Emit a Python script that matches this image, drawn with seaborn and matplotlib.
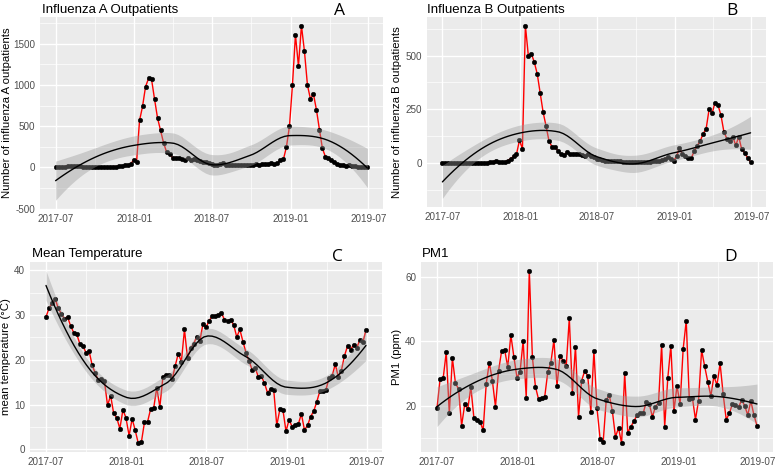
import numpy as np
import pandas as pd
import matplotlib
matplotlib.use("Agg")
import matplotlib.pyplot as plt
import matplotlib.dates as mdates
import seaborn as sns

# ---------------- data (weekly) ----------------
week_start = "2017-07-01"
n_weeks = 105

flu_a = [5, 5, 5, 10, 20, 20, 20, 15, 15, 10, 10, 5, 5, 5, 5, 5, 5, 5, 5, 10,
         10, 15, 20, 25, 30, 40,
         90, 60, 570, 740, 980, 1080, 1070, 830, 600, 450, 300, 190, 160,
         120, 120, 110, 100, 90, 110, 90, 100, 90, 80, 70, 60, 50, 40,
         30, 30, 40, 50, 30, 30, 30, 25, 25, 25, 30, 30, 30, 30, 40, 30, 40,
         40, 40, 50, 40, 50, 90, 100,
         250, 500, 1000, 1610, 1230, 1720, 1410, 1000, 830, 890, 700, 460, 230, 130,
         110, 90, 60, 40, 30, 30, 20, 30, 20, 15, 10, 10, 5, 5]

flu_b = [0, 0, 0, 0, 0, 0, 0, 0, 0, 0, 0, 0, 0, 0, 0, 0, 5, 5, 10, 5, 5, 5, 10,
         20, 30, 40, 105, 65, 640, 500, 510, 470, 415, 325, 235, 170, 100, 75,
         75, 55, 40, 35, 50, 40, 40, 40, 40, 35, 30, 40, 30, 25, 20,
         20, 15, 10, 10, 10, 10, 10, 10, 5, 5, 5, 5, 5, 5, 5, 5, 5, 5, 10, 10,
         10, 15, 20, 25, 20,
         10, 30, 70, 39, 30, 23, 23, 55, 80, 102, 136, 159, 250, 231, 281,
         269, 222, 144, 113, 102, 122, 81, 122, 63, 47, 23, 3]

temperature = [29.6, 31.6, 32.7, 33.6, 31.5, 30.3, 29.2, 29.6, 27.6, 26.1,
               25.7, 23.6, 23.1, 21.6, 22.0, 18.8, 17.0, 15.5, 15.8, 15.2,
               9.8, 12.0, 8.0, 7.0, 4.6, 8.8, 7.0, 3.0, 6.8, 4.2,
               1.3, 1.6, 6.0, 6.1, 9.0, 9.2, 13.8, 9.4, 16.2, 16.6,
               16.6, 15.6, 18.7, 21.4, 19.6, 26.8, 20.3, 22.6, 23.6, 25.2,
               24.2, 28.0, 27.3, 28.7, 29.8, 29.9, 30.1, 30.5, 29.0, 28.7,
               29.0, 27.8, 25.1, 26.8, 24.1, 21.6, 19.7, 17.8, 18.2, 16.2,
               16.3, 14.8, 12.6, 13.5, 13.3, 5.3, 8.9, 8.8, 4.0, 6.6,
               5.0, 5.5, 5.6, 7.9, 4.3, 5.3, 7.3, 8.5, 10.6, 13.0,
               13.0, 13.3, 16.0, 16.4, 19.0, 16.2, 17.6, 20.9, 23.1, 22.3,
               23.4, 22.7, 24.4, 24.0, 26.6]

pm1 = [19.2, 28.3, 28.5, 36.6, 17.6, 34.8, 27.0, 25.2, 13.8, 20.4,
       18.9, 25.9, 16.1, 15.7, 15.0, 12.4, 26.8, 33.4, 27.8, 19.7,
       30.8, 37.0, 37.3, 32.0, 42.0, 35.1, 28.7, 30.6, 40.2, 22.5,
       62.0, 35.1, 25.9, 22.0, 22.3, 22.7, 30.4, 33.4, 40.4, 26.2,
       35.6, 33.9, 32.4, 47.2, 24.1, 38.4, 16.6, 27.8, 30.8, 29.2,
       18.1, 37.0, 19.2, 9.8, 8.6, 21.8, 23.3, 18.3, 10.3, 13.1,
       8.3, 30.1, 11.6, 13.5, 15.2, 17.1, 17.6, 17.6, 21.2, 20.5,
       16.6, 19.7, 21.0, 38.9, 13.5, 28.5, 38.6, 18.3, 26.2, 20.4,
       37.6, 46.4, 22.0, 22.5, 15.7, 21.6, 37.3, 32.2, 27.5, 23.0,
       29.2, 26.4, 33.2, 23.6, 15.7, 17.6, 20.5, 20.2, 19.5, 21.8,
       20.0, 17.1, 21.5, 17.1, 13.8]

titles = ["Influenza A Outpatients", "Influenza B Outpatients",
          "Mean Temperature", "PM1"]
ylabels = ["Number of influenza A outpatients", "Number of influenza B outpatients",
           "mean temperature (\u00b0C)", "PM1 (ppm)"]
letters = ["A", "B", "C", "D"]
x_tick_dates = ["2017-07-01", "2018-01-01", "2018-07-01", "2019-01-01", "2019-07-01"]
x_tick_labels = ["2017-07", "2018-01", "2018-07", "2019-01", "2019-07"]
y_ticks = [[-500, 0, 500, 1000, 1500], [0, 250, 500], [0, 10, 20, 30, 40], [20, 40, 60]]

# ---------------- loess (R-style, kd-tree + hermite interpolation) ----------------
def local_rows(x, pts, span=0.75, degree=2):
    n = len(x)
    q = int(np.floor(n * span))
    V, S = [], []
    for x0 in pts:
        d = np.abs(x - x0)
        rho = np.sort(d)[q - 1] * max(1.0, span)
        u = np.minimum(d / rho, 1.0)
        w = (1 - u ** 3) ** 3
        dx = (x - x0) / 100.0
        X = np.column_stack([dx ** k for k in range(degree + 1)])
        XtW = X.T * w
        B = np.linalg.solve(XtW @ X, XtW)
        V.append(B[0])
        S.append(B[1] / 100.0)
    return np.array(V), np.array(S)


def kd_vertices(x, span=0.75, cell=0.2):
    n = len(x)
    fc = int(np.floor(n * span * cell))
    xs = np.sort(x)
    mu = 0.005 * (xs[-1] - xs[0])
    verts = {xs[0] - mu, xs[-1] + mu}

    def split(l, u):
        if u - l + 1 <= fc:
            return
        m = (l + u + 2) // 2 - 1
        verts.add(xs[m])
        split(l, m)
        split(m + 1, u)

    split(0, n - 1)
    return np.array(sorted(verts))


def hermite_rows(xv, Vv, Sv, pts):
    rows = []
    for p in pts:
        j = np.searchsorted(xv, p, side="right") - 1
        j = min(max(j, 0), len(xv) - 2)
        a, b = xv[j], xv[j + 1]
        h = b - a
        t = (p - a) / h
        h00 = 2 * t ** 3 - 3 * t ** 2 + 1
        h10 = t ** 3 - 2 * t ** 2 + t
        h01 = -2 * t ** 3 + 3 * t ** 2
        h11 = t ** 3 - t ** 2
        rows.append(h00 * Vv[j] + h10 * h * Sv[j] + h01 * Vv[j + 1] + h11 * h * Sv[j + 1])
    return np.array(rows)


def t_quantile(df):
    # Cornish-Fisher expansion of the Student t 0.975 quantile
    z = 1.959963984540054
    g1 = (z ** 3 + z) / 4
    g2 = (5 * z ** 5 + 16 * z ** 3 + 3 * z) / 96
    g3 = (3 * z ** 7 + 19 * z ** 5 + 17 * z ** 3 - 15 * z) / 384
    return z + g1 / df + g2 / df ** 2 + g3 / df ** 3


def loess_smooth(x, y, n_out=80):
    x = np.asarray(x, float)
    y = np.asarray(y, float)
    n = len(x)
    xv = kd_vertices(x)
    Vv, Sv = local_rows(x, xv)
    L = hermite_rows(xv, Vv, Sv, x)
    res = y - L @ y
    M = np.eye(n) - L
    A = M.T @ M
    d1 = np.trace(A)
    d2 = np.trace(A @ A)
    s = np.sqrt(np.sum(res ** 2) / d1)
    df = d1 ** 2 / d2
    grid = np.linspace(x.min(), x.max(), n_out)
    G = hermite_rows(xv, Vv, Sv, grid)
    fit = G @ y
    se = s * np.sqrt(np.sum(G ** 2, axis=1))
    tq = t_quantile(df)
    return grid, fit, fit - tq * se, fit + tq * se

# ---------------- style ----------------
sns.set_theme(style="darkgrid")
plt.rcParams["font.family"] = ["Liberation Sans", "DejaVu Sans"]
plt.rcParams["axes.facecolor"] = "#EBEBEB"
plt.rcParams["axes.edgecolor"] = "#EBEBEB"

W, H = 778, 467
fig = plt.figure(figsize=(W / 100, H / 100), dpi=100)
fig.patch.set_facecolor("white")

# panel rectangles in pixels: left, top, right, bottom
panel_px = [(40, 17, 383, 209), (427, 17, 766, 207), (30, 262, 382, 452), (421, 262, 773, 452)]
title_pos = [(42, 13), (427, 13), (32, 257), (422, 257)]
letter_pos = [(340, 15), (732, 15), (337, 261), (731, 261)]
ylabel_x = [7.0, 397.0, 6.0, 396.5]

dates = pd.date_range(week_start, periods=n_weeks, freq="7D")
xnum = mdates.date2num(dates)
series = [flu_a, flu_b, temperature, pm1]

for k in range(4):
    l, t, r, b = panel_px[k]
    ax = fig.add_axes([l / W, 1 - b / H, (r - l) / W, (b - t) / H])
    ax.set_facecolor("#EBEBEB")
    yv = np.asarray(series[k], float)
    df = pd.DataFrame({"date": dates, "value": yv})

    sns.lineplot(data=df, x="date", y="value", ax=ax, color="red", linewidth=1.0, zorder=3)
    sns.scatterplot(data=df, x="date", y="value", ax=ax, color="black", s=11,
                    edgecolor="black", linewidth=0.3, zorder=4)

    gx, fit, lo, hi = loess_smooth(xnum, yv)
    gdates = pd.to_datetime(gx, unit="D", origin="unix")
    ax.fill_between(gdates, lo, hi, color="#999999", alpha=0.4, linewidth=0, zorder=5)
    sns.lineplot(x=gdates, y=fit, ax=ax, color="black", linewidth=1.0, zorder=6)

    # limits, ggplot-style 5% expansion
    x0, x1 = xnum.min(), xnum.max()
    xr = x1 - x0
    y0 = min(yv.min(), lo.min())
    y1 = max(yv.max(), hi.max())
    yr = y1 - y0
    ylo, yhi = y0 - 0.05 * yr, y1 + 0.05 * yr

    maj = y_ticks[k]
    step = maj[1] - maj[0]
    ext = [maj[0] - step] + maj + [maj[-1] + step]
    minor = [(ext[i] + ext[i + 1]) / 2 for i in range(len(ext) - 1)]
    minor = [m for m in minor if ylo <= m <= yhi]
    ax.set_yticks(maj)
    ax.set_yticklabels([str(v) for v in maj])
    ax.set_yticks(minor, minor=True)
    ax.set_ylim(ylo, yhi)

    xt = mdates.date2num(pd.to_datetime(x_tick_dates))
    ax.set_xticks(xt)
    ax.set_xticklabels(x_tick_labels)
    xmin = [(xt[i] + xt[i + 1]) / 2 for i in range(len(xt) - 1)]
    ax.set_xticks(xmin, minor=True)
    ax.set_xlim(x0 - 0.05 * xr, x1 + 0.05 * xr)

    ax.grid(which="major", color="white", linewidth=1.0)
    ax.grid(which="minor", color="white", linewidth=0.5)
    ax.set_axisbelow(True)
    ax.tick_params(which="major", length=2.2, width=0.6, color="#333333",
                   labelsize=7.1, labelcolor="#4D4D4D", pad=1.2)
    ax.tick_params(which="minor", length=0)
    for sp in ax.spines.values():
        sp.set_visible(False)
    ax.set_xlabel("")
    ax.set_ylabel("")

    tx, ty = title_pos[k]
    fig.text(tx / W, 1 - ty / H, titles[k], ha="left", va="baseline",
             fontsize=9.5, color="black")
    lx, lyy = letter_pos[k]
    fig.text(lx / W, 1 - lyy / H, letters[k], ha="center", va="baseline",
             fontsize=12.5, color="black", family=["Open Sans", "DejaVu Sans"])
    fig.text(ylabel_x[k] / W, 1 - ((t + b) / 2) / H, ylabels[k], rotation=90,
             ha="center", va="center", fontsize=8.2, color="black")

fig.savefig("out.png", dpi=100, facecolor="white")
